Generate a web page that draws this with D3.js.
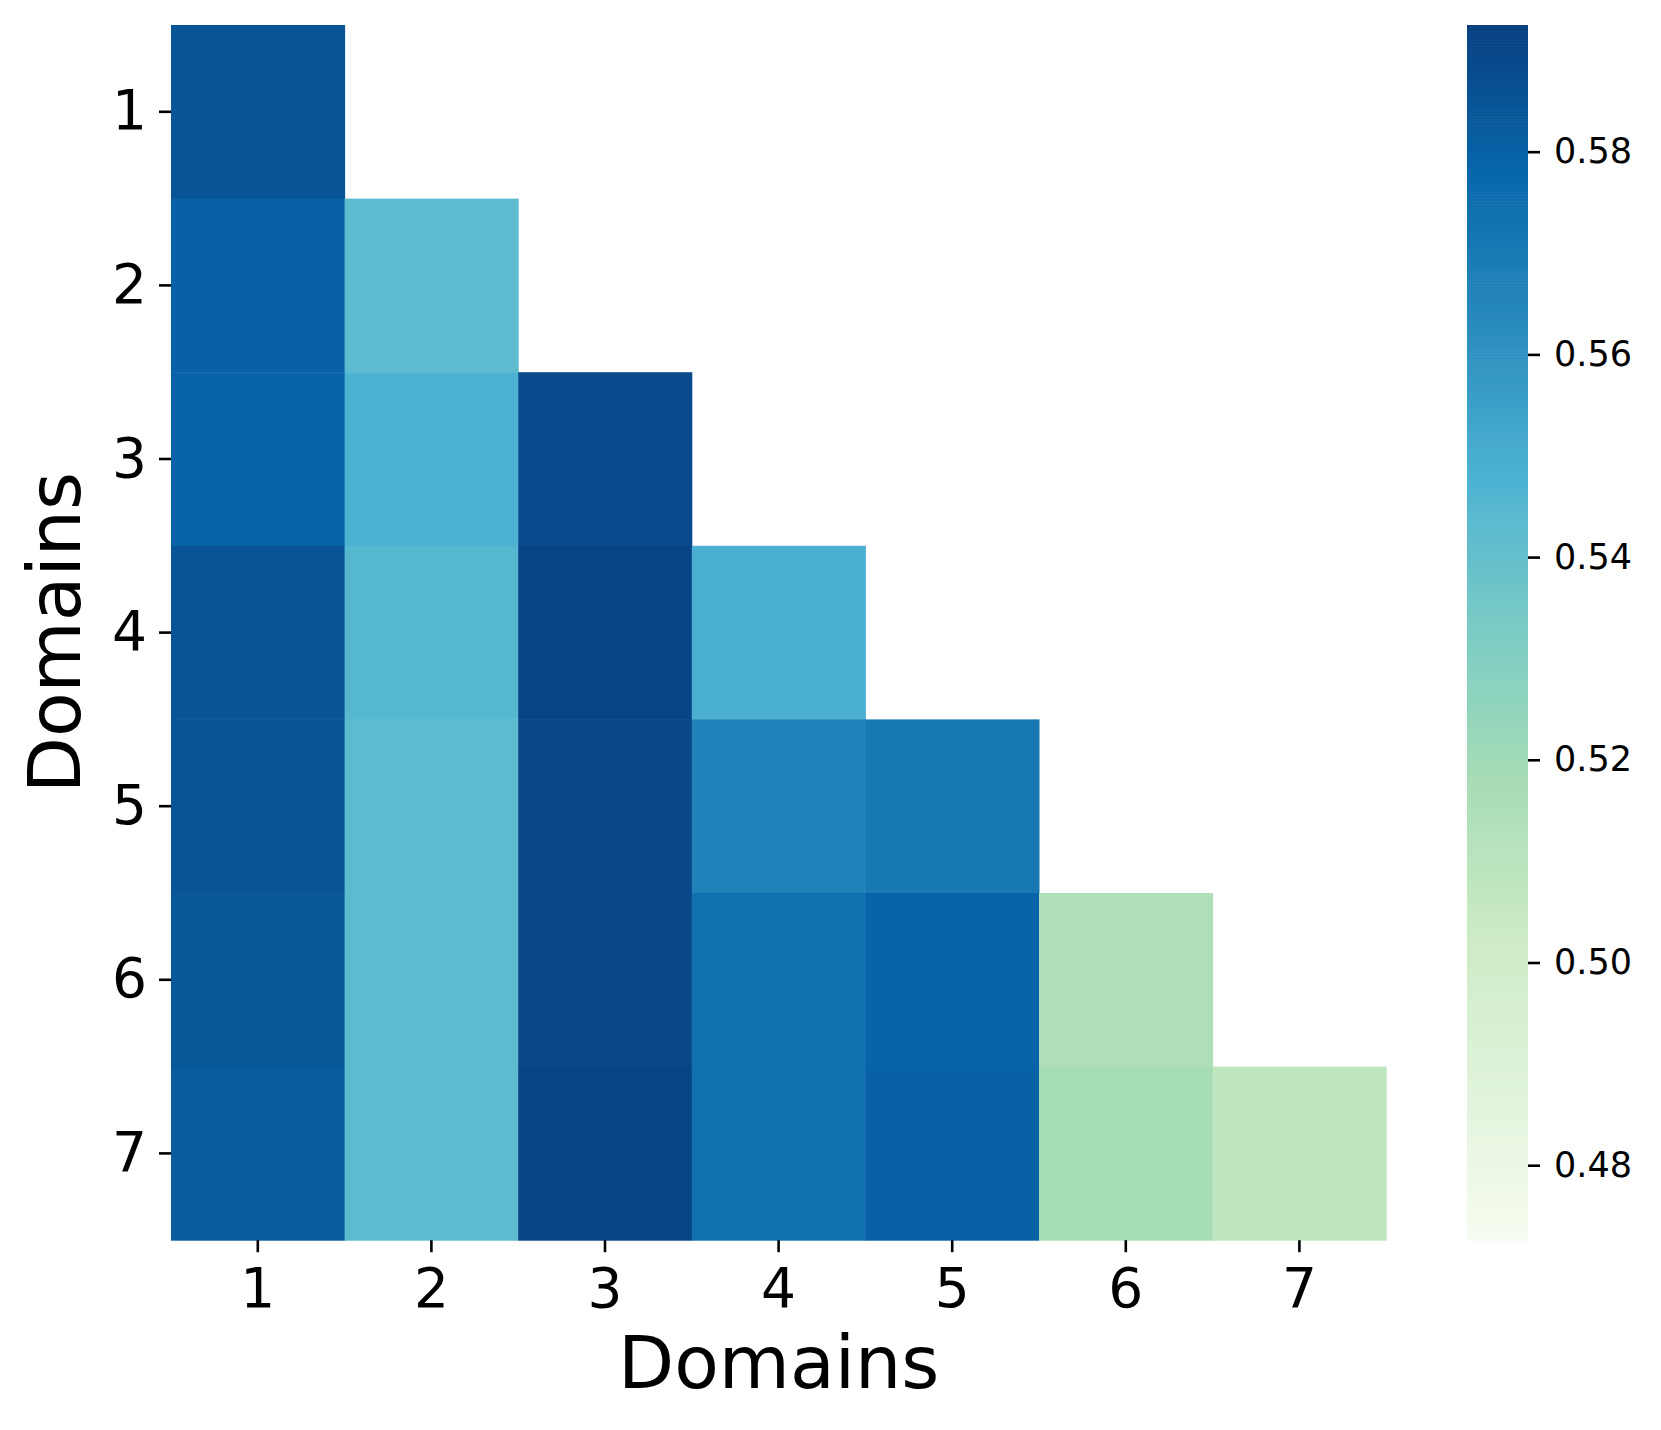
<!DOCTYPE html>
<html>
<head>
<meta charset="utf-8">
<script src="https://cdn.jsdelivr.net/npm/d3@7"></script>
<style>
  body { margin: 0; background: #fff; }
  svg text { font-family: "DejaVu Sans", sans-serif; fill: #000; }
</style>
</head>
<body>
<div id="chart"></div>
<script>
// Domain labels on both axes
var domains = ["1", "2", "3", "4", "5", "6", "7"];

// Lower-triangle values, row by row (upper triangle is masked)
var row1 = [0.585];
var row2 = [0.580, 0.543];
var row3 = [0.579, 0.548, 0.588];
var row4 = [0.585, 0.545, 0.591, 0.549];
var row5 = [0.585, 0.543, 0.590, 0.567, 0.571];
var row6 = [0.584, 0.543, 0.590, 0.574, 0.579, 0.515];
var row7 = [0.582, 0.543, 0.591, 0.574, 0.580, 0.518, 0.508];
var rows = [row1, row2, row3, row4, row5, row6, row7];

// Colour bar range and ticks
var colorMin = 0.4726;
var colorMax = 0.5925;
var colorTicks = [0.48, 0.50, 0.52, 0.54, 0.56, 0.58];

// GnBu, same stops as matplotlib
var gnbu = ["#f7fcf0", "#e0f3db", "#ccebc5", "#a8ddb5", "#7bccc4",
            "#4eb3d3", "#2b8cbe", "#0868ac", "#084081"];

// Canvas attributes
var width = 1661;
var height = 1430;
var marginLeft = 171;
var marginTop = 25;
var cell = 173.6;
var plotW = cell * 7;
var plotH = cell * 7;

var svg = d3.select("#chart")
  .append("svg")
  .attr("width", width)
  .attr("height", height);

var color = d3.scaleLinear()
  .domain(gnbu.map(function(c, i) { return colorMin + (colorMax - colorMin) * i / (gnbu.length - 1); }))
  .range(gnbu)
  .interpolate(d3.interpolateRgb)
  .clamp(true);

var x = d3.scaleBand().domain(domains).range([marginLeft, marginLeft + plotW]);
var y = d3.scaleBand().domain(domains).range([marginTop, marginTop + plotH]);

// flatten into cells
var cells = [];
rows.forEach(function(r, i) {
  r.forEach(function(v, j) {
    cells.push({ row: domains[i], col: domains[j], value: v });
  });
});

svg.append("g")
  .selectAll("rect")
  .data(cells)
  .enter()
  .append("rect")
  .attr("x", function(d) { return x(d.col); })
  .attr("y", function(d) { return y(d.row); })
  .attr("width", x.bandwidth() + 0.5)
  .attr("height", y.bandwidth() + 0.5)
  .attr("fill", function(d) { return color(d.value); });

// Axes
var xAxis = svg.append("g")
  .attr("transform", "translate(0," + (marginTop + plotH) + ")")
  .call(d3.axisBottom(x).tickSize(12).tickPadding(14));
var yAxis = svg.append("g")
  .attr("transform", "translate(" + marginLeft + ",0)")
  .call(d3.axisLeft(y).tickSize(12).tickPadding(12));

[xAxis, yAxis].forEach(function(a) {
  a.select(".domain").remove();
  a.selectAll(".tick line").attr("stroke", "#000").attr("stroke-width", 2.6);
  a.selectAll(".tick text")
    .attr("font-size", 55)
    .attr("font-family", "DejaVu Sans, sans-serif");
});
xAxis.selectAll(".tick text").attr("dy", "0.75em");

// Axis labels
svg.append("text")
  .attr("x", marginLeft + plotW / 2)
  .attr("y", 1388)
  .attr("text-anchor", "middle")
  .attr("font-size", 73)
  .text("Domains");

svg.append("text")
  .attr("transform", "translate(" + 80 + "," + (marginTop + plotH / 2) + ")rotate(-90)")
  .attr("text-anchor", "middle")
  .attr("font-size", 73)
  .text("Domains");

// Colour bar
var cbX = 1467;
var cbW = 61;
var cbScale = d3.scaleLinear().domain([colorMin, colorMax]).range([marginTop + plotH, marginTop]);

var steps = d3.range(0, 400);
svg.append("g")
  .selectAll("rect")
  .data(steps)
  .enter()
  .append("rect")
  .attr("x", cbX)
  .attr("width", cbW)
  .attr("y", function(i) { return cbScale(colorMin + (colorMax - colorMin) * (i + 1) / steps.length); })
  .attr("height", plotH / steps.length + 0.6)
  .attr("fill", function(i) { return color(colorMin + (colorMax - colorMin) * (i + 0.5) / steps.length); });

var cbAxis = svg.append("g")
  .attr("transform", "translate(" + (cbX + cbW) + ",0)")
  .call(d3.axisRight(cbScale).tickValues(colorTicks).tickFormat(d3.format(".2f")).tickSize(12).tickPadding(14));
cbAxis.select(".domain").remove();
cbAxis.selectAll(".tick line").attr("stroke", "#000").attr("stroke-width", 2.6);
cbAxis.selectAll(".tick text")
  .attr("font-size", 35)
  .attr("font-family", "DejaVu Sans, sans-serif");
</script>
</body>
</html>
